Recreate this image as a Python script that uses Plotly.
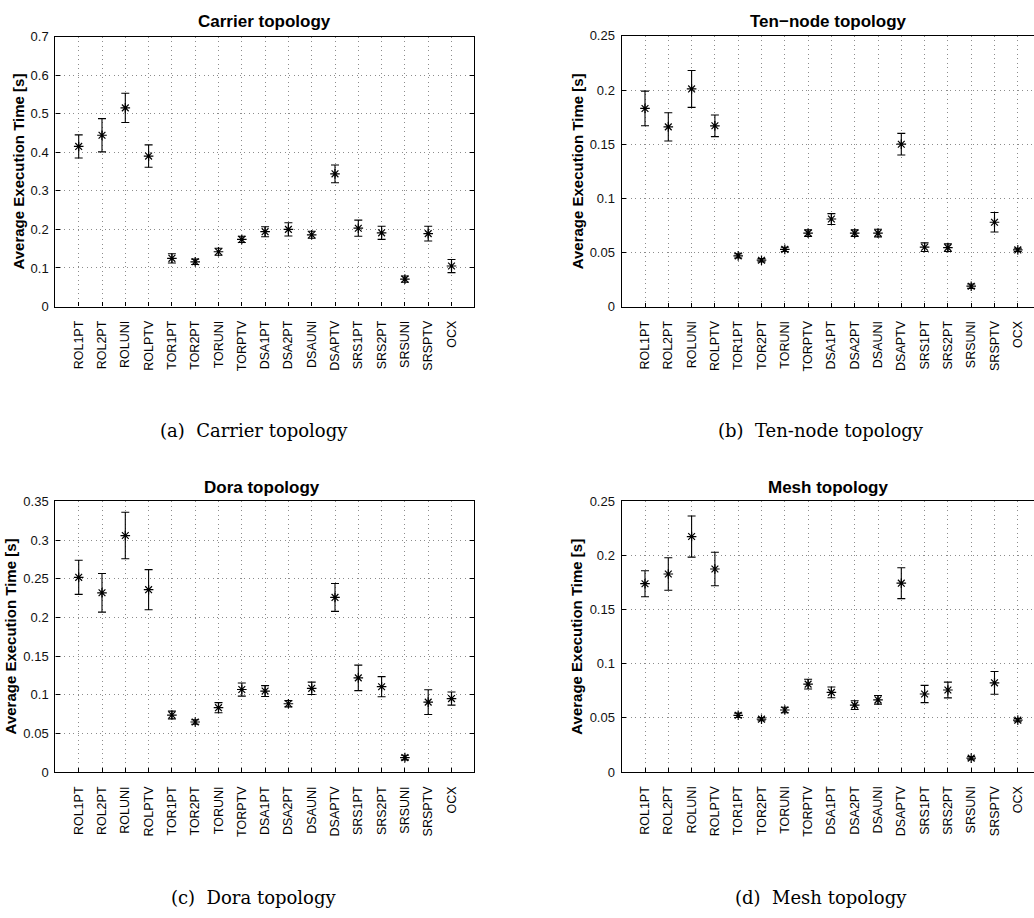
import plotly.graph_objects as go

categories = ["ROL1PT", "ROL2PT", "ROLUNI", "ROLPTV", "TOR1PT", "TOR2PT", "TORUNI", "TORPTV",
              "DSA1PT", "DSA2PT", "DSAUNI", "DSAPTV", "SRS1PT", "SRS2PT", "SRSUNI", "SRSPTV", "OCX"]

carrier_mean = [0.415, 0.444, 0.515, 0.390, 0.125, 0.116, 0.142, 0.174, 0.194, 0.200, 0.186, 0.344,
                0.203, 0.191, 0.071, 0.189, 0.105]
carrier_err = [0.030, 0.043, 0.038, 0.029, 0.012, 0.007, 0.009, 0.008, 0.013, 0.017, 0.009, 0.023,
               0.021, 0.017, 0.008, 0.019, 0.017]

tennode_mean = [0.183, 0.166, 0.201, 0.167, 0.047, 0.043, 0.053, 0.068, 0.081, 0.068, 0.068, 0.150,
                0.055, 0.0546, 0.019, 0.078, 0.0525]
tennode_err = [0.016, 0.013, 0.017, 0.010, 0.002, 0.0015, 0.002, 0.003, 0.005, 0.003, 0.0035, 0.010,
               0.004, 0.0035, 0.002, 0.009, 0.0015]

dora_mean = [0.252, 0.232, 0.306, 0.236, 0.074, 0.065, 0.0835, 0.107, 0.105, 0.0886, 0.1085, 0.226,
             0.122, 0.1106, 0.019, 0.0907, 0.0953]
dora_err = [0.022, 0.025, 0.030, 0.026, 0.005, 0.003, 0.0065, 0.0085, 0.007, 0.004, 0.008, 0.018,
            0.0165, 0.013, 0.003, 0.016, 0.0085]

mesh_mean = [0.174, 0.183, 0.2176, 0.1876, 0.0524, 0.0488, 0.0573, 0.0812, 0.0736, 0.0618, 0.0667, 0.1745,
             0.0721, 0.0758, 0.0128, 0.0824, 0.0479]
mesh_err = [0.012, 0.015, 0.019, 0.0155, 0.002, 0.0015, 0.0025, 0.0045, 0.005, 0.004, 0.004, 0.0143,
            0.008, 0.0073, 0.0015, 0.0105, 0.0015]

titles = ["Carrier topology", "Ten\u2212node topology", "Dora topology", "Mesh topology"]
captions = ["(a)\u00a0 Carrier topology", "(b)\u00a0 Ten-node topology",
            "(c)\u00a0 Dora topology", "(d)\u00a0 Mesh topology"]
ytick_sets = [
    [0, 0.1, 0.2, 0.3, 0.4, 0.5, 0.6, 0.7],
    [0, 0.05, 0.1, 0.15, 0.2, 0.25],
    [0, 0.05, 0.1, 0.15, 0.2, 0.25, 0.3, 0.35],
    [0, 0.05, 0.1, 0.15, 0.2, 0.25],
]
ytick_text = [
    ["0", "0.1", "0.2", "0.3", "0.4", "0.5", "0.6", "0.7"],
    ["0", "0.05", "0.1", "0.15", "0.2", "0.25"],
    ["0", "0.05", "0.1", "0.15", "0.2", "0.25", "0.3", "0.35"],
    ["0", "0.05", "0.1", "0.15", "0.2", "0.25"],
]
means = [carrier_mean, tennode_mean, dora_mean, mesh_mean]
errs = [carrier_err, tennode_err, dora_err, mesh_err]

W, H = 1034, 918

def px(x):
    return x / W

def py(y):
    return 1 - y / H

# plot boxes in pixels: (left, right, top, bottom)
boxes = [
    (55.4, 474.3, 30.0, 304.5),
    (621.7, 1034.0, 29.3, 304.8),
    (55.4, 474.3, 502.7, 778.0),
    (621.7, 1034.0, 502.7, 777.7),
]
step = 23.3
xpos = list(range(1, len(categories) + 1))

fig = go.Figure()
annotations = []
font_sans = "Liberation Sans, Arial, Helvetica, sans-serif"
grid_dash = "1px,3.5px"
grid_col = "#8c8c8c"

for i in range(4):
    l, r, t, b = boxes[i]
    xa = "x" if i == 0 else f"x{i+1}"
    ya = "y" if i == 0 else f"y{i+1}"
    fig.add_trace(go.Scatter(
        x=xpos, y=means[i], mode="markers", xaxis=xa, yaxis=ya,
        marker=dict(symbol="asterisk-open", size=8, color="black",
                    line=dict(color="black", width=1.2)),
        error_y=dict(type="data", array=errs[i], visible=True, color="black",
                     thickness=1.1, width=4),
        showlegend=False, cliponaxis=False, hoverinfo="skip",
    ))
    xr = (r - l) / step
    clipped = (r >= W - 0.5)
    xkey = "xaxis" if i == 0 else f"xaxis{i+1}"
    ykey = "yaxis" if i == 0 else f"yaxis{i+1}"
    fig.layout[xkey] = dict(
        domain=[px(l), px(r)], range=[0, xr], anchor=ya,
        tickmode="array", tickvals=xpos, ticktext=categories, tickangle=-90,
        ticks="inside", ticklen=4, tickcolor="black",
        showline=True, linecolor="black", linewidth=1.3, mirror=True,
        showgrid=True, gridcolor=grid_col, gridwidth=1, griddash=grid_dash,
        zeroline=False, fixedrange=True,
        tickfont=dict(family=font_sans, size=12.5, color="black"),
        ticklabelstandoff=8,
    )
    ymax = ytick_sets[i][-1]
    fig.layout[ykey] = dict(
        domain=[py(b), py(t)], range=[0, ymax], anchor=xa,
        tickmode="array", tickvals=ytick_sets[i], ticktext=ytick_text[i],
        ticks="inside", ticklen=4, tickcolor="black",
        showline=True, linecolor="black", linewidth=1.3,
        mirror=(False if clipped else "ticks"),
        showgrid=True, gridcolor=grid_col, gridwidth=1, griddash=grid_dash,
        zeroline=False, fixedrange=True,
        tickfont=dict(family=font_sans, size=13, color="#111"),
        ticklabelstandoff=3,
    )
    # title
    tx = [264.5, 828.0, 262.0, 828.0][i]
    ty = [15.0, 15.0, 488.0, 488.0][i]
    annotations.append(dict(
        text=f"<b>{titles[i]}</b>", x=px(tx), y=py(ty), xref="paper", yref="paper",
        showarrow=False, xanchor="center", yanchor="middle",
        font=dict(family=font_sans, size=17, color="black"),
    ))
    # y label
    lx = [19.0, 577.0, 10.5, 577.0][i]
    annotations.append(dict(
        text="<b>Average Execution Time [s]</b>", x=px(lx), y=py((t + b) / 2),
        xref="paper", yref="paper", showarrow=False, textangle=-90,
        xanchor="center", yanchor="middle",
        font=dict(family=font_sans, size=15, color="black"),
    ))
    # caption
    cx = [254.0, 821.0, 254.0, 821.0][i]
    cy = [431.0, 431.0, 905.0, 905.0][i]
    annotations.append(dict(
        text=captions[i], x=px(cx), y=py(cy), xref="paper", yref="paper",
        showarrow=False, xanchor="center", yanchor="middle",
        font=dict(family="DejaVu Serif, Liberation Serif, serif", size=18, color="black"),
    ))

fig.update_layout(
    width=W, height=H, autosize=False,
    margin=dict(l=0, r=0, t=0, b=0),
    paper_bgcolor="white", plot_bgcolor="white",
    annotations=annotations,
    hovermode=False,
)

fig.write_html(
    "out.html",
    config={"displayModeBar": False},
    post_script="document.body.style.margin='0';document.body.style.overflow='hidden';",
)
